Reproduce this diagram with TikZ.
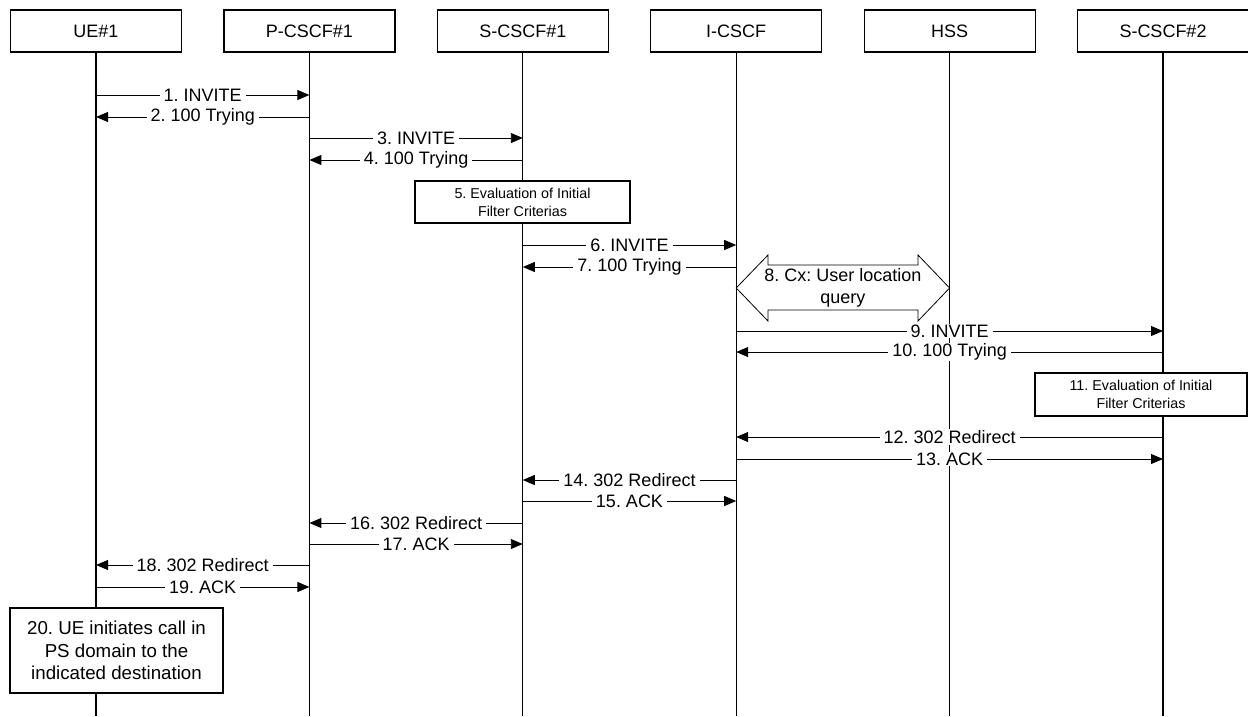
\documentclass[tikz,border=0pt]{standalone}
\usepackage{fontspec}
\setmainfont{Liberation Sans}
\usetikzlibrary{arrows.meta,calc}
\frenchspacing
\tikzset{
 hdr/.style={draw,line width=1.2pt,minimum width=171pt,minimum height=42pt,inner sep=0pt,font=\fontsize{18}{21}\selectfont},
 life/.style={line width=1.3pt},
 msg/.style={line width=0.9pt,-{Triangle[length=12pt,width=10pt]}},
 lbl/.style={fill=white,inner xsep=4pt,inner ysep=1pt,font=\fontsize{18}{21}\selectfont},
 evbox/.style={draw,fill=white,line width=1.2pt,align=center,inner sep=0pt,font=\fontsize{14.3}{18}\selectfont},
 notebox/.style={draw,fill=white,line width=1.2pt,align=center,inner sep=0pt,font=\fontsize{18.7}{22.5}\selectfont},
 fatarrow/.style={draw,fill=white,line width=0.8pt,line join=miter},
 fattext/.style={align=center,inner sep=0pt,font=\fontsize{18}{22}\selectfont},
}
\newcommand\msgline[4]{\draw[msg] (#1 |- 0,-#3) -- node[lbl]{#4} (#2 |- 0,-#3);}
\begin{document}
\frenchspacing
\begin{tikzpicture}[x=1pt,y=1pt]
\useasboundingbox (0,0) rectangle (1248,-716);
% headers
\node[hdr] (ue) at (96,-31) {UE\#1};
\node[hdr] (pc) at (309.4,-31) {P-CSCF\#1};
\node[hdr] (sa) at (522.8,-31) {S-CSCF\#1};
\node[hdr] (ic) at (736.2,-31) {I-CSCF};
\node[hdr] (hs) at (949.6,-31) {HSS};
\node[hdr] (sb) at (1163,-31) {S-CSCF\#2};
% lifeline ends
\coordinate (ueE) at (96,-716);
\coordinate (pcE) at (309.4,-716);
\coordinate (saE) at (522.8,-716);
\coordinate (icE) at (736.2,-716);
\coordinate (hsE) at (949.6,-716);
\coordinate (sbE) at (1163,-716);
\draw[life] (ue.south) -- (ueE);
\draw[life] (pc.south) -- (pcE);
\draw[life] (sa.south) -- (saE);
\draw[life] (ic.south) -- (icE);
\draw[life] (hs.south) -- (hsE);
\draw[life] (sb.south) -- (sbE);
% messages
\msgline{ue}{pc}{95}{1. INVITE}
\msgline{pc}{ue}{117}{2. 100 Trying}
\msgline{pc}{sa}{138}{3. INVITE}
\msgline{sa}{pc}{160}{4. 100 Trying}
\node[evbox,minimum width=215pt,minimum height=42pt] (b5) at (522.5,-202) {5. Evaluation of Initial\\Filter Criterias};
\msgline{sa}{ic}{245}{6. INVITE}
\msgline{ic}{sa}{267}{7. 100 Trying}
% fat double arrow 8
\draw[fatarrow] (736.2,-288) -- (768,-255) -- (768,-265) -- (918,-265) -- (918,-255) -- (949.6,-288) -- (918,-321) -- (918,-310) -- (768,-310) -- (768,-321) -- cycle;
\node[fattext] (m8) at (842.9,-288) {8. Cx: User location\\query};
\msgline{ic}{sb}{331}{9. INVITE}
\msgline{sb}{ic}{352}{10. 100 Trying}
\node[evbox,minimum width=212pt,minimum height=43pt] (b11) at (1141,-394.5) {11. Evaluation of Initial\\Filter Criterias};
\msgline{sb}{ic}{437}{12. 302 Redirect}
\msgline{ic}{sb}{459}{13. ACK}
\msgline{ic}{sa}{480}{14. 302 Redirect}
\msgline{sa}{ic}{501}{15. ACK}
\msgline{sa}{pc}{523}{16. 302 Redirect}
\msgline{pc}{sa}{544}{17. ACK}
\msgline{pc}{ue}{565}{18. 302 Redirect}
\msgline{ue}{pc}{587}{19. ACK}
\node[notebox,minimum width=213pt,minimum height=85pt] (b20) at (116.5,-650.5) {20. UE initiates call in\\PS domain to the\\indicated destination};
\end{tikzpicture}
\end{document}
